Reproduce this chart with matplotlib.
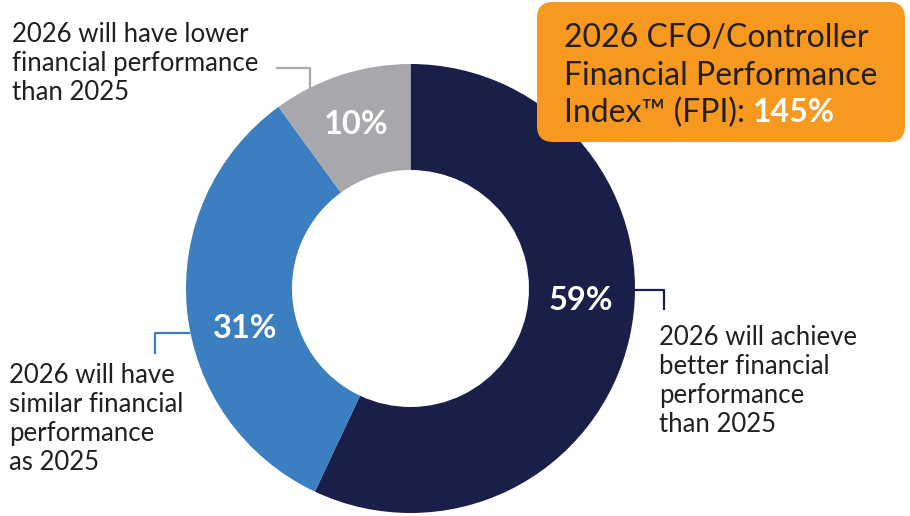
import matplotlib
matplotlib.use("Agg")
import matplotlib.pyplot as plt
from matplotlib.patches import FancyBboxPatch

categories = ["2026 will achieve\nbetter financial\nperformance\nthan 2025",
              "2026 will have\nsimilar financial\nperformance\nas 2025",
              "2026 will have lower\nfinancial performance\nthan 2025"]
# arc shares as drawn in the picture
arc_shares = [57, 33, 10]
pct_labels = ["59%", "31%", "10%"]
colors = ["#1a1f4a", "#3c7fc1", "#a7a8ab"]
fpi_value = "145%"

W, H = 910, 516
fig = plt.figure(figsize=(W / 100, H / 100), dpi=100)
ax = fig.add_axes([0, 0, 1, 1])

cx, cy, R = 410.5, H - 288.5, 224.5
ax.pie(arc_shares, colors=colors, startangle=90, counterclock=False,
       radius=R, center=(cx, cy),
       wedgeprops=dict(width=106, edgecolor="none"))
ax.set_xlim(0, W)
ax.set_ylim(0, H)
ax.set_aspect("equal")
ax.axis("off")

font = "Lato"
txtcol = "#231f20"

# percentage labels
pct_pos = [(581, 300), (245, 328), (356, 125)]
for lab, (x, y) in zip(pct_labels, pct_pos):
    ax.text(x, H - y, lab, color="white", fontsize=23.5, fontweight="bold",
            family=font, ha="center", va="center")

# category labels
kw = dict(fontsize=18.5, family=font, color=txtcol, ha="left", va="center",
          linespacing=1.2)
ax.text(659, H - 381, categories[0], **kw)
ax.text(9, H - 419, categories[1], **kw)
ax.text(12, H - 64, categories[2], **kw)

# leader lines
ax.plot([635, 664, 664], [H - 290, H - 290, H - 309], color=colors[0], lw=1.6)
ax.plot([155, 155, 189], [H - 353, H - 333, H - 333], color=colors[1], lw=1.6)
ax.plot([277, 310, 310], [H - 68, H - 68, H - 90], color=colors[2], lw=1.6)

# FPI box
box = FancyBboxPatch((537, H - 142), 368, 140,
                     boxstyle="round,pad=0,rounding_size=16",
                     fc="#f7981f", ec="none")
ax.add_patch(box)
bkw = dict(fontsize=23, family=font, color=txtcol, ha="left", va="center")
ax.text(564, H - 38, "2026 CFO/Controller", **bkw)
ax.text(564, H - 76, "Financial Performance", **bkw)
t = ax.text(564, H - 113, "Index\u2122 (FPI): ", **bkw)
fig.canvas.draw()
bb = t.get_window_extent()
x_end = ax.transData.inverted().transform((bb.x1, bb.y0))[0]
ax.text(x_end, H - 113, fpi_value, fontsize=23, family=font,
        fontweight="bold", color="white", ha="left", va="center")

fig.savefig("out.png", dpi=100)
